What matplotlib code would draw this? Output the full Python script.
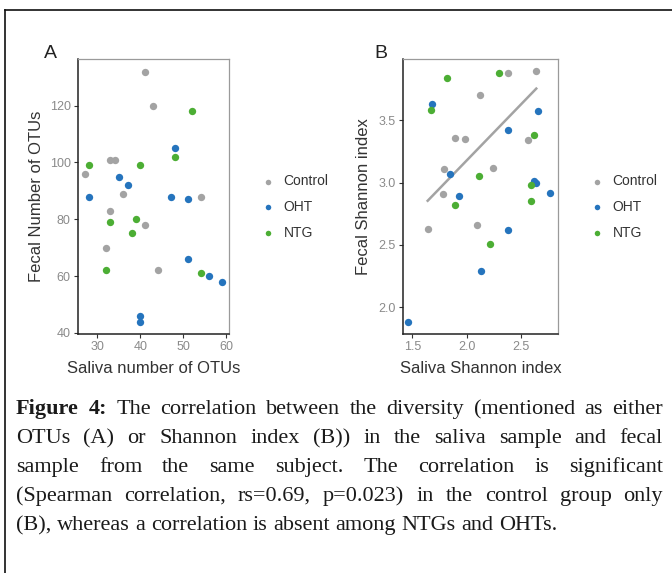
import matplotlib
matplotlib.use("Agg")
import matplotlib.pyplot as plt
import numpy as np

plt.rcParams['font.family'] = ['Liberation Sans', 'DejaVu Sans']

# panel A: number of OTUs (saliva, fecal)
ctrl_otu_x = [41, 43, 27, 33, 34, 36, 33, 41, 32, 44, 54]
ctrl_otu_y = [132, 120, 96, 101, 101, 89, 83, 78, 70, 62, 88]
oht_otu_x = [28, 35, 37, 48, 47, 51, 51, 56, 59, 40, 40]
oht_otu_y = [88, 95, 92, 105, 88, 87, 66, 60, 58, 46, 44]
ntg_otu_x = [28, 40, 52, 48, 33, 39, 38, 32, 54]
ntg_otu_y = [99, 99, 118, 102, 79, 80, 75, 62, 61]

# panel B: Shannon index (saliva, fecal)
ctrl_sh_x = [1.64, 1.79, 1.78, 1.89, 1.98, 2.12, 2.09, 2.24, 2.38, 2.56, 2.64]
ctrl_sh_y = [2.63, 3.11, 2.91, 3.36, 3.35, 3.70, 2.66, 3.12, 3.88, 3.34, 3.89]
oht_sh_x = [1.46, 1.68, 1.85, 1.93, 2.38, 2.66, 2.62, 2.64, 2.77, 2.38, 2.13]
oht_sh_y = [1.88, 3.63, 3.07, 2.89, 3.42, 3.575, 3.01, 3.00, 2.92, 2.62, 2.29]
ntg_sh_x = [1.67, 1.82, 2.30, 1.89, 2.11, 2.21, 2.62, 2.59, 2.59]
ntg_sh_y = [3.58, 3.84, 3.88, 2.82, 3.05, 2.51, 3.38, 2.98, 2.85]

groups = ['Control', 'OHT', 'NTG']
colors = ['#a3a3a3', '#2574bd', '#4cae34']

caption_lines = [
    "Figure 4: The correlation between the diversity (mentioned as either",
    "OTUs (A) or Shannon index (B)) in the saliva sample and fecal",
    "sample from the same subject. The correlation is significant",
    "(Spearman correlation, rs=0.69, p=0.023) in the control group only",
    "(B), whereas a correlation is absent among NTGs and OHTs.",
]

W, H = 672, 573
fig = plt.figure(figsize=(W / 100, H / 100), dpi=100)


def px_box(l, t, r, b):
    return [l / W, 1 - b / H, (r - l) / W, (b - t) / H]


def style(ax):
    for s in ['top', 'right']:
        ax.spines[s].set_color('#9a9a9a')
        ax.spines[s].set_linewidth(0.9)
    for s in ['left', 'bottom']:
        ax.spines[s].set_color('#222222')
        ax.spines[s].set_linewidth(1.1)
    ax.tick_params(direction='out', length=3, width=0.8, color='#333333',
                   labelsize=9, labelcolor='#8a8a8a', pad=2)


axA = fig.add_axes(px_box(77.7, 59, 229, 334))
axB = fig.add_axes(px_box(402.7, 59, 558, 334))

for xs, ys, c, g in zip([ctrl_otu_x, oht_otu_x, ntg_otu_x], [ctrl_otu_y, oht_otu_y, ntg_otu_y], colors, groups):
    axA.scatter(xs, ys, s=28, color=c, label=g, linewidths=0, zorder=3)
for xs, ys, c, g in zip([ctrl_sh_x, oht_sh_x, ntg_sh_x], [ctrl_sh_y, oht_sh_y, ntg_sh_y], colors, groups):
    axB.scatter(xs, ys, s=28, color=c, label=g, linewidths=0, zorder=3)

# linear fit for control group
k, b0 = np.polyfit(ctrl_sh_x, ctrl_sh_y, 1)
lx = np.array([min(ctrl_sh_x), max(ctrl_sh_x)])
axB.plot(lx, k * lx + b0, color='#a3a3a3', lw=1.8, zorder=2)

axA.set_xlim(25.4, 60.6)
axA.set_ylim(39.6, 136.4)
axA.set_xticks([30, 40, 50, 60])
axA.set_yticks([40, 60, 80, 100, 120])
axB.set_xlim(1.41, 2.84)
axB.set_ylim(1.786, 3.99)
axB.set_xticks([1.5, 2.0, 2.5])
axB.set_yticks([2.0, 2.5, 3.0, 3.5])

for ax in (axA, axB):
    style(ax)

lab = dict(fontsize=12, color='#333333')
axA.set_xlabel('Saliva number of OTUs', labelpad=6, **lab)
axA.set_ylabel('Fecal Number of OTUs', labelpad=4, **lab)
axB.set_xlabel('Saliva Shannon index', labelpad=6, **lab)
axB.set_ylabel('Fecal Shannon index', labelpad=5, **lab)

fig.text(44 / W, 1 - 58 / H, 'A', fontsize=14, color='#222222', va='baseline')
fig.text(374 / W, 1 - 58 / H, 'B', fontsize=14, color='#222222', va='baseline')

for ax, lx0 in ((axA, 262), (axB, 591)):
    ax.legend(loc='center left', bbox_to_anchor=(lx0 / W, 1 - 207 / H),
              bbox_transform=fig.transFigure, frameon=False, fontsize=10,
              handlelength=0.8, handletextpad=0.75, labelspacing=0.85,
              borderpad=0, borderaxespad=0, markerscale=0.75,
              labelcolor='#333333')

# outer frame lines (top and left)
fig.add_artist(plt.Line2D([5 / W, 1], [1 - 9.5 / H, 1 - 9.5 / H], color='#111111', lw=1.2))
fig.add_artist(plt.Line2D([5 / W, 5 / W], [0, 1 - 9.5 / H], color='#111111', lw=1.2))

# justified caption
renderer = fig.canvas.get_renderer()
cap_font = dict(family='Liberation Serif', fontsize=16, color='#1a1a1a')
x_left, x_right = 16, 663
base_y = [414, 443, 472, 501, 530]

sp = fig.text(0, 0, 'a a', **cap_font)
sp2 = fig.text(0, 0, 'aa', **cap_font)
fig.canvas.draw()
space_w = sp.get_window_extent(renderer).width - sp2.get_window_extent(renderer).width
sp.remove()
sp2.remove()

for i, line in enumerate(caption_lines):
    words = line.split(' ')
    texts = []
    for j, w in enumerate(words):
        weight = 'bold' if (i == 0 and j < 2) else 'normal'
        texts.append(fig.text(0, 1 - base_y[i] / H, w, va='baseline', fontweight=weight, **cap_font))
    fig.canvas.draw()
    widths = [t.get_window_extent(renderer).width for t in texts]
    if i < len(caption_lines) - 1:
        gap = (x_right - x_left - sum(widths)) / (len(words) - 1)
    else:
        gap = space_w
    x = x_left
    for t, wd in zip(texts, widths):
        t.set_x(x / W)
        x += wd + gap

fig.savefig('out.png', dpi=100)
